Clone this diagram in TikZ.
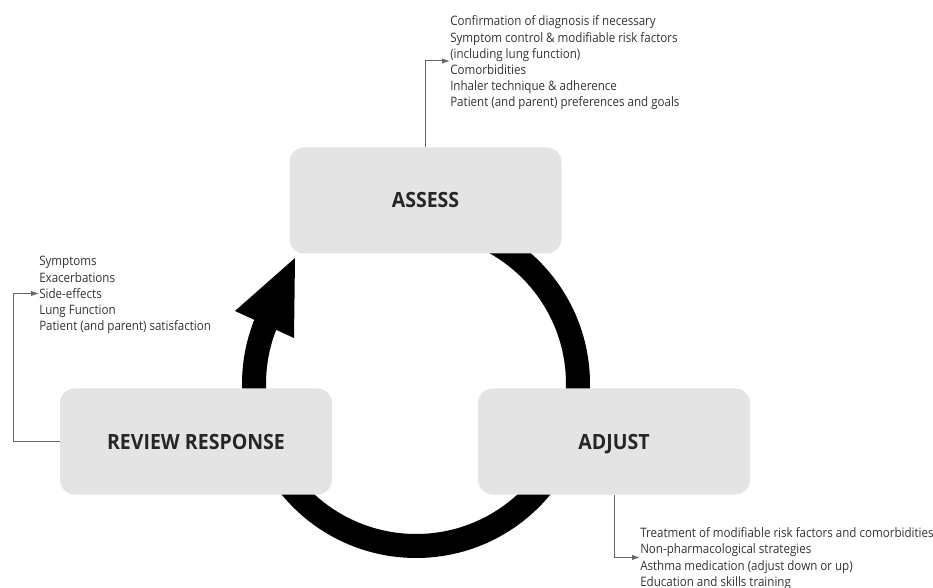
\documentclass[tikz,border=0pt]{standalone}
\usepackage{fontspec}
\setmainfont{Open Sans}
\newfontfamily\itemfont{Open Sans}[FakeStretch=0.89]
\newfontfamily\stagefont{Open Sans}[FakeStretch=0.93]
\usetikzlibrary{arrows.meta,calc}
\definecolor{boxgray}{HTML}{E4E4E4}
\definecolor{txtgray}{HTML}{333333}
\definecolor{linegray}{HTML}{666666}
\begin{document}
\begin{tikzpicture}[x=0.75pt,y=-0.75pt,
  stage/.style={rectangle, rounded corners=11pt, fill=boxgray, minimum width=204pt,
    minimum height=79.5pt, inner sep=0pt, text=black!85,
    text height=11.25pt, text depth=0pt,
    font=\stagefont\fontsize{15.75}{18}\selectfont\bfseries},
  item/.style={anchor=base west, inner sep=0pt, text=txtgray,
    font=\itemfont\fontsize{9.75}{12}\selectfont},
  link/.style={draw=linegray, line width=0.75pt, -{Latex[length=6pt,width=4pt]}},
  ring/.style={line width=18pt}]
\useasboundingbox (0,0) rectangle (933,588);

% cycle ring with its arrowhead
\coordinate (c) at (416,384);
\draw[ring] ($(c)+(-90:162)$) arc[start angle=-90, end angle=203, radius=162];
\fill (295,258) -- (235,311) -- (294,338) -- cycle;

% the three stages
\node[stage] (assess) at (425.5,200.5) {ASSESS};
\node[stage] (adjust) at (614,441.5) {ADJUST};
\node[stage] (review) at (196,441.5) {REVIEW RESPONSE};

% assess items
\foreach \t [count=\i] in {{Confirmation of diagnosis if necessary},
    {Symptom control \& modifiable risk factors},
    {(including lung function)},
    {Comorbidities},
    {Inhaler technique \& adherence},
    {Patient (and parent) preferences and goals}}
  \node[item] (a\i) at (450,{26+16.1*(\i-1)}) {\t};

% review items
\foreach \t [count=\i] in {{Symptoms},{Exacerbations},{Side-effects},
    {Lung Function},{Patient (and parent) satisfaction}}
  \node[item] (r\i) at (39,{266+16.25*(\i-1)}) {\t};

% adjust items
\foreach \t [count=\i] in {{Treatment of modifiable risk factors and comorbidities},
    {Non-pharmacological strategies},
    {Asthma medication (adjust down or up)},
    {Education and skills training}}
  \node[item] (j\i) at (640,{537.7+16.2*(\i-1)}) {\t};

% connectors from stages to their item lists
\coordinate (atip) at (450,61);
\coordinate (rtip) at (39,293.5);
\coordinate (jtip) at (640,557.5);
\draw[link] (assess.north) |- (atip);
\draw[link] (review.west) -- ++(-46,0) |- (rtip);
\draw[link] (adjust.south) |- (jtip);
\end{tikzpicture}
\end{document}
